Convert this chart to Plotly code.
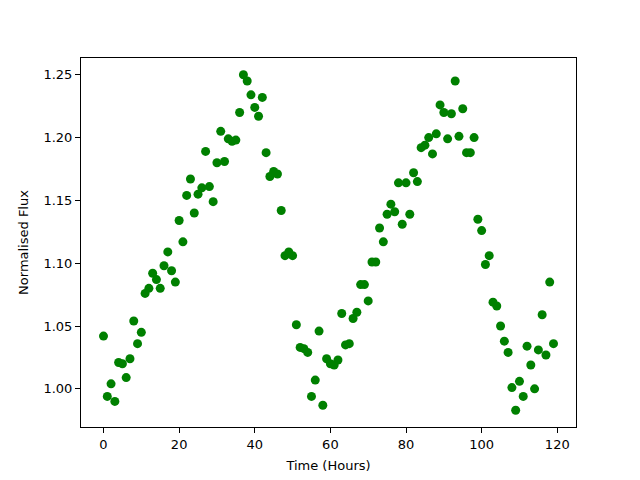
import plotly.graph_objects as go

hours = list(range(120))
flux = [
    1.042, 0.994, 1.004, 0.990, 1.021, 1.020, 1.009, 1.024, 1.054, 1.036,
    1.045, 1.076, 1.080, 1.092, 1.087, 1.080, 1.098, 1.109, 1.094, 1.085,
    1.134, 1.117, 1.154, 1.167, 1.140, 1.155, 1.160, 1.189, 1.161, 1.149,
    1.180, 1.205, 1.181, 1.199, 1.197, 1.198, 1.220, 1.250, 1.245, 1.234,
    1.224, 1.217, 1.232, 1.188, 1.169, 1.173, 1.171, 1.142, 1.106, 1.109,
    1.106, 1.051, 1.033, 1.032, 1.029, 0.994, 1.007, 1.046, 0.987, 1.024,
    1.020, 1.019, 1.023, 1.060, 1.035, 1.036, 1.056, 1.061, 1.083, 1.083,
    1.070, 1.101, 1.101, 1.128, 1.117, 1.139, 1.147, 1.141, 1.164, 1.131,
    1.164, 1.139, 1.172, 1.165, 1.192, 1.194, 1.200, 1.187, 1.203, 1.226,
    1.220, 1.199, 1.219, 1.245, 1.201, 1.223, 1.188, 1.188, 1.200, 1.135,
    1.126, 1.099, 1.106, 1.069, 1.066, 1.050, 1.038, 1.029, 1.001, 0.983,
    1.006, 0.994, 1.034, 1.019, 1.000, 1.031, 1.059, 1.027, 1.085, 1.036,
]
x_ticks = [0, 20, 40, 60, 80, 100, 120]
y_ticks = [1.00, 1.05, 1.10, 1.15, 1.20, 1.25]

fig = go.Figure(go.Scatter(
    x=hours, y=flux, mode="markers",
    marker=dict(color="#008000", size=9, line=dict(width=0)),
))

xr = max(hours) - min(hours)
yr = max(flux) - min(flux)
axis_common = dict(
    showgrid=False, zeroline=False, showline=True, linecolor="black",
    linewidth=1, mirror=True, ticks="outside", ticklen=5, tickwidth=1,
    tickcolor="black", tickfont=dict(family="DejaVu Sans", size=13, color="black"),
    automargin=False,
)
fig.update_layout(
    width=640, height=480,
    margin=dict(l=73, r=72, t=50, b=61),
    paper_bgcolor="white", plot_bgcolor="white",
    showlegend=False,
    font=dict(family="DejaVu Sans", size=13, color="black"),
    xaxis=dict(
        range=[min(hours) - 0.05 * xr, max(hours) + 0.05 * xr],
        tickvals=x_ticks, ticktext=[str(v) for v in x_ticks],
        title=dict(text="Time (Hours)", font=dict(size=13), standoff=10),
        **axis_common,
    ),
    yaxis=dict(
        range=[min(flux) - 0.05 * yr, max(flux) + 0.05 * yr],
        tickvals=y_ticks, ticktext=[f"{v:.2f}" for v in y_ticks],
        title=dict(text="Normalised Flux", font=dict(size=13), standoff=11),
        **axis_common,
    ),
)

fig.write_html("out.html")
